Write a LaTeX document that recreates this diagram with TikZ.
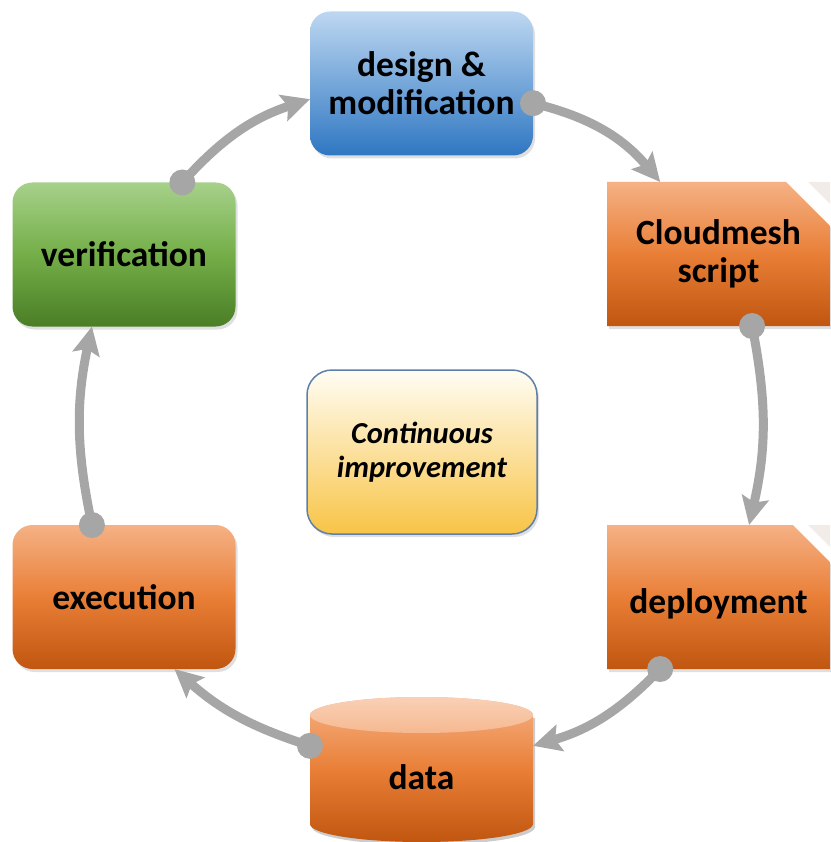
\documentclass[tikz,border=0pt]{standalone}
\usepackage{fontspec}
\setmainfont{Carlito}
\usetikzlibrary{arrows.meta,shapes.misc,shadows,backgrounds}
\definecolor{flowgray}{HTML}{A6A6A6}
\definecolor{bluetop}{HTML}{BDD7F1}
\definecolor{bluebot}{HTML}{2F77C2}
\definecolor{orangetop}{HTML}{F5B185}
\definecolor{orangemid}{HTML}{E97F37}
\definecolor{orangebot}{HTML}{C0560F}
\definecolor{greentop}{HTML}{A6D18A}
\definecolor{greenmid}{HTML}{74AE48}
\definecolor{greenbot}{HTML}{4A7E26}
\definecolor{yellowtop}{HTML}{FFFDF4}
\definecolor{yellowbot}{HTML}{F8C447}
\definecolor{yellowline}{HTML}{5D7FA8}
\definecolor{foldgray}{HTML}{F1ECE8}

\begin{document}
\begin{tikzpicture}[x=1pt,y=1pt,
	box/.style={rectangle,rounded corners=20pt,minimum width=223pt,minimum height=144pt,outer sep=0pt,align=center,
		font=\fontsize{35.5}{38}\selectfont\bfseries,
		drop shadow={opacity=0.25,shadow xshift=2pt,shadow yshift=-3pt}},
	note/.style={chamfered rectangle,chamfered rectangle corners=north east,chamfered rectangle xsep=22pt,chamfered rectangle ysep=22pt,
		minimum width=223pt,minimum height=144pt,inner sep=0pt,outer sep=0pt,align=center,
		font=\fontsize{35.5}{38}\selectfont\bfseries,
		drop shadow={opacity=0.25,shadow xshift=2pt,shadow yshift=-3pt}},
	blueshade/.style={top color=bluetop,bottom color=bluebot},
	orangeshade/.style={top color=orangetop,bottom color=orangebot,middle color=orangemid},
	greenshade/.style={top color=greentop,bottom color=greenbot,middle color=greenmid},
	flow/.style={draw=flowgray,line width=9pt,-{Stealth[length=28pt,width=27pt,inset=5pt]}},
	flowdot/.style={fill=flowgray}]
	\useasboundingbox (0,0) rectangle (830,-842);

	\node[box,blueshade] (design) at (421.5,-83.5) {design \&\\modification};
	\node[note,orangeshade] (cloud) at (718.5,-254) {Cloudmesh\\script};
	\node[note,orangeshade] (deploy) at (718.5,-597) {\raisebox{-7pt}[\height][\depth]{deployment}};
	\node[font=\fontsize{35.5}{38}\selectfont\bfseries,minimum width=223pt,minimum height=145pt,outer sep=0pt] (data) at (421.5,-769.5) {\raisebox{-8pt}[\height][\depth]{data}};
	\node[box,orangeshade] (exec) at (124,-597) {execution};
	\node[box,greenshade] (verif) at (124,-254.5) {verification};
	\node[box,rounded corners=25pt,minimum width=230pt,minimum height=164pt,draw=yellowline,line width=1.5pt,
		top color=yellowtop,bottom color=yellowbot,font=\fontsize{30.5}{34}\selectfont\bfseries\itshape] (improve) at (422,-452) {Continuous\\improvement};

	% folded corners
	\fill[foldgray] (cloud.east |- cloud.north) ++(-22,0) -- ++(22,0) -- ++(0,-22) -- cycle;
	\fill[foldgray] (deploy.east |- deploy.north) ++(-22,0) -- ++(22,0) -- ++(0,-22) -- cycle;

	% cylinder behind the data label
	\begin{scope}[on background layer]
		\fill[black,opacity=0.2] ([xshift=2pt,yshift=-21pt]data.north west) -- ([xshift=2pt,yshift=15pt]data.south west)
			arc[start angle=180,end angle=360,x radius=111.5,y radius=18] -- ([xshift=2pt,yshift=-21pt]data.north east) -- cycle;
		\shade[orangeshade] ([yshift=-18pt]data.north west) -- ([yshift=18pt]data.south west)
			arc[start angle=180,end angle=360,x radius=111.5,y radius=18] -- ([yshift=-18pt]data.north east)
			arc[start angle=0,end angle=180,x radius=111.5,y radius=18] -- cycle;
		\shade[top color=orangetop!60!white,bottom color=orangetop!90!white] ([yshift=-18pt]data.north) ellipse[x radius=111.5,y radius=18];
	\end{scope}

	\draw[flow] (design.-10) to[bend left=18] (cloud.129);
	\draw[flow] (cloud.-65) to[bend left=12] (deploy.67);
	\draw[flow] (deploy.-129) to[bend left=15] (data.12);
	\draw[flow] (data.168) to[bend left=12] (exec.-55);
	\draw[flow] (exec.114) to[bend left=12] (verif.-114);
	\draw[flow] (verif.51) to[bend left=15] (design.188);
	\foreach \spot in {design.-10,cloud.-65,deploy.-129,data.168,exec.114,verif.51}
		\fill[flowdot] (\spot) circle (13);
\end{tikzpicture}
\end{document}
